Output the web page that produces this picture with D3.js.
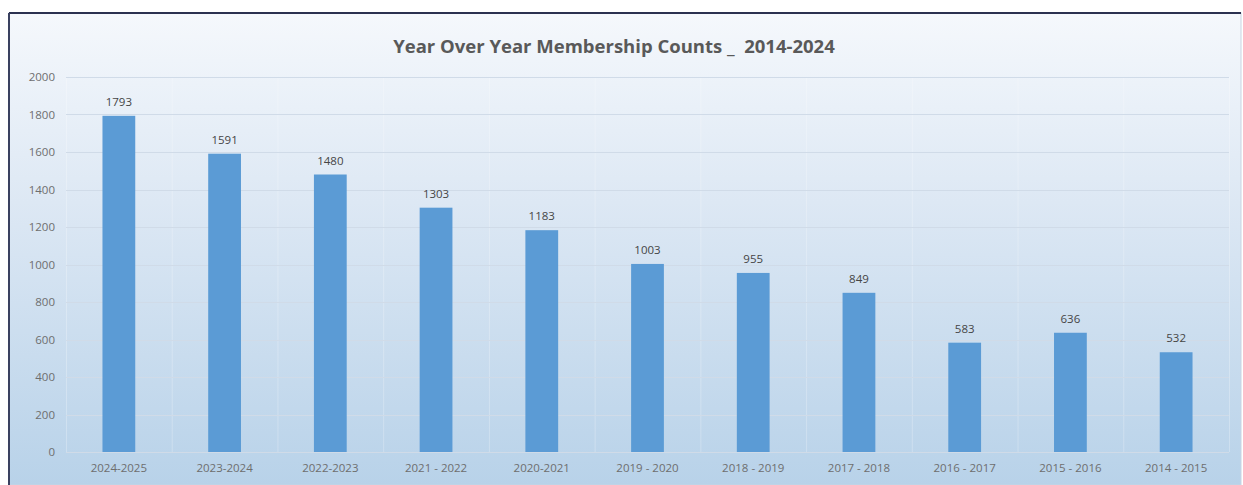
<!DOCTYPE html>
<html>
<head>
<meta charset="utf-8">
<script src="https://cdn.jsdelivr.net/npm/d3@7"></script>
<style>
  body { margin: 0; background: #ffffff; }
  svg { display: block; }
</style>
</head>
<body>
<div id="chart-area"></div>
<script>
// data
var seasons = ["2024-2025", "2023-2024", "2022-2023", "2021 - 2022", "2020-2021",
               "2019 - 2020", "2018 - 2019", "2017 - 2018", "2016 - 2017", "2015 - 2016", "2014 - 2015"];
var members = [1793, 1591, 1480, 1303, 1183, 1003, 955, 849, 583, 636, 532];
var yTicks = [0, 200, 400, 600, 800, 1000, 1200, 1400, 1600, 1800, 2000];
var chartTitle = "Year Over Year Membership Counts _  2014-2024";

var W = 1243, H = 485;
var frame = {left: 9, top: 13, right: 1241, bottom: 485};
var margin = {left: 66, right: 1229, top: 77, bottom: 452};

var svg = d3.select("#chart-area")
    .append("svg")
    .attr("width", W)
    .attr("height", H);

// background gradient
var defs = svg.append("defs");
var grad = defs.append("linearGradient")
    .attr("id", "bg")
    .attr("x1", 0).attr("y1", 0).attr("x2", 0).attr("y2", 1);
grad.append("stop").attr("offset", "0%").attr("stop-color", "#f5f8fc");
grad.append("stop").attr("offset", "40%").attr("stop-color", "#dde8f4");
grad.append("stop").attr("offset", "100%").attr("stop-color", "#b8d2e9");

svg.append("rect")
    .attr("x", frame.left)
    .attr("y", frame.top)
    .attr("width", frame.right - frame.left)
    .attr("height", frame.bottom - frame.top)
    .attr("fill", "url(#bg)")
    .attr("stroke", "#c9d4e2")
    .attr("stroke-width", 1);

// dark border top and left
svg.append("line")
    .attr("x1", frame.left).attr("x2", frame.right)
    .attr("y1", frame.top).attr("y2", frame.top)
    .attr("stroke", "#2b3150").attr("stroke-width", 2);
svg.append("line")
    .attr("x1", frame.left).attr("x2", frame.left)
    .attr("y1", frame.top).attr("y2", frame.bottom)
    .attr("stroke", "#3a4160").attr("stroke-width", 2);

// scales
var x = d3.scaleBand()
    .domain(seasons)
    .range([margin.left, margin.right])
    .paddingInner(0.69)
    .paddingOuter(0.345);

var y = d3.scaleLinear()
    .domain([0, 2000])
    .range([margin.bottom, margin.top]);

var g = svg.append("g");

// vertical faint lines between categories
var step = x.step();
g.selectAll(".vline")
    .data(d3.range(seasons.length + 1))
    .enter()
    .append("line")
    .attr("x1", function(i){ return margin.left + i * step + 0.5; })
    .attr("x2", function(i){ return margin.left + i * step + 0.5; })
    .attr("y1", margin.top)
    .attr("y2", margin.bottom)
    .attr("stroke", "#ffffff")
    .attr("stroke-opacity", 0.25)
    .attr("stroke-width", 1);

// horizontal gridlines
g.selectAll(".hline")
    .data(yTicks)
    .enter()
    .append("line")
    .attr("x1", margin.left)
    .attr("x2", margin.right)
    .attr("y1", function(d){ return Math.round(y(d)) + 0.5; })
    .attr("y2", function(d){ return Math.round(y(d)) + 0.5; })
    .attr("stroke", "#d0dbe8")
    .attr("stroke-width", 1);

// y-axis
var leftAxis = d3.axisLeft(y)
    .tickValues(yTicks)
    .tickFormat(d3.format("d"))
    .tickSize(0)
    .tickPadding(11);

var yAxisG = g.append("g")
    .attr("class", "y-axis")
    .attr("transform", "translate(" + margin.left + ",0)")
    .call(leftAxis);
yAxisG.select(".domain").remove();
yAxisG.selectAll("text")
    .attr("fill", "#6e6e6e")
    .style("font-family", "'Open Sans', sans-serif")
    .style("font-size", "11.5px");

// x-axis
var bottomAxis = d3.axisBottom(x)
    .tickSize(0)
    .tickPadding(12);

var xAxisG = g.append("g")
    .attr("class", "x-axis")
    .attr("transform", "translate(0," + margin.bottom + ")")
    .call(bottomAxis);
xAxisG.select(".domain").remove();
xAxisG.selectAll("text")
    .attr("fill", "#6e6e6e")
    .style("font-family", "'Open Sans', sans-serif")
    .style("font-size", "11.5px");

// bars
g.selectAll(".bar")
    .data(members)
    .enter()
    .append("rect")
    .attr("class", "bar")
    .attr("x", function(d, i){ return x(seasons[i]); })
    .attr("y", function(d){ return y(d); })
    .attr("width", x.bandwidth())
    .attr("height", function(d){ return margin.bottom - y(d); })
    .attr("fill", "#5b9bd5");

// value labels
g.selectAll(".val")
    .data(members)
    .enter()
    .append("text")
    .attr("x", function(d, i){ return x(seasons[i]) + x.bandwidth() / 2; })
    .attr("y", function(d){ return y(d) - 10; })
    .attr("text-anchor", "middle")
    .attr("fill", "#454545")
    .style("font-family", "'Open Sans', sans-serif")
    .style("font-size", "11.5px")
    .text(function(d){ return d; });

// title
svg.append("text")
    .attr("x", 614)
    .attr("y", 53)
    .attr("text-anchor", "middle")
    .attr("fill", "#595959")
    .style("font-family", "'Open Sans', sans-serif")
    .style("font-weight", "bold")
    .style("font-size", "18.5px")
    .style("white-space", "pre")
    .text(chartTitle);
</script>
</body>
</html>
